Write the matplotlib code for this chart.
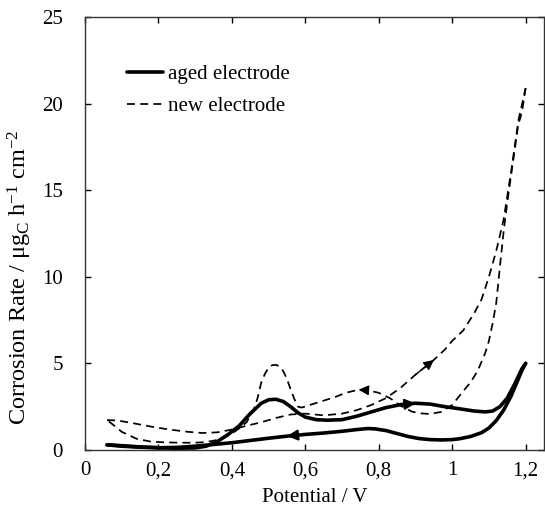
import matplotlib
matplotlib.use("Agg")
import matplotlib.pyplot as plt

plt.rcParams['font.family'] = ['Liberation Serif', 'DejaVu Serif']
plt.rcParams['mathtext.fontset'] = 'custom'
plt.rcParams['mathtext.rm'] = 'Liberation Serif'
plt.rcParams['mathtext.it'] = 'Liberation Serif:italic'

# ---------------- data ----------------
x_ticks = [0, 0.2, 0.4, 0.6, 0.8, 1.0, 1.2]
x_tick_labels = ['0', '0,2', '0,4', '0,6', '0,8', '1', '1,2']
y_ticks = [0, 5, 10, 15, 20, 25]

aged_fwd_x = [0.06, 0.10, 0.15, 0.20, 0.25, 0.30, 0.33, 0.36, 0.39, 0.42, 0.45, 0.48, 0.50, 0.52,
              0.54, 0.56, 0.58, 0.60, 0.63, 0.66, 0.70, 0.74, 0.78, 0.82, 0.86, 0.90, 0.94, 0.98,
              1.02, 1.06, 1.09, 1.11, 1.13, 1.15, 1.17, 1.19, 1.20]
aged_fwd_y = [0.30, 0.25, 0.18, 0.13, 0.10, 0.12, 0.22, 0.48, 0.90, 1.40, 2.10, 2.70, 2.90, 2.93,
              2.80, 2.50, 2.15, 1.90, 1.75, 1.72, 1.75, 1.95, 2.20, 2.45, 2.62, 2.70, 2.65, 2.50,
              2.38, 2.25, 2.20, 2.25, 2.50, 3.00, 3.80, 4.70, 5.00]

aged_bwd_x = [1.20, 1.19, 1.18, 1.17, 1.16, 1.15, 1.14, 1.12, 1.10, 1.08, 1.05, 1.02, 1.00, 0.97,
              0.94, 0.91, 0.88, 0.85, 0.82, 0.79, 0.77, 0.74, 0.70, 0.65, 0.60, 0.55, 0.50, 0.45,
              0.40, 0.35, 0.30, 0.25, 0.20, 0.15, 0.10, 0.06]
aged_bwd_y = [5.00, 4.60, 4.10, 3.60, 3.10, 2.70, 2.30, 1.70, 1.27, 1.00, 0.78, 0.65, 0.60, 0.58,
              0.60, 0.66, 0.78, 0.95, 1.12, 1.22, 1.24, 1.18, 1.08, 0.98, 0.90, 0.80, 0.68, 0.55,
              0.42, 0.32, 0.22, 0.15, 0.13, 0.16, 0.22, 0.30]

new_fwd_x = [0.06, 0.09, 0.13, 0.18, 0.23, 0.28, 0.32, 0.36, 0.40, 0.44, 0.48, 0.52, 0.56, 0.60,
             0.65, 0.70, 0.74, 0.78, 0.82, 0.86, 0.90, 0.95, 0.98, 1.00, 1.03, 1.06, 1.08, 1.10,
             1.12, 1.14, 1.16, 1.18, 1.20]
new_fwd_y = [1.73, 1.70, 1.55, 1.35, 1.18, 1.05, 0.98, 1.02, 1.18, 1.40, 1.60, 1.85, 2.05, 2.10,
             2.00, 2.10, 2.30, 2.60, 3.00, 3.60, 4.35, 5.20, 5.80, 6.30, 6.90, 7.90, 8.70, 10.0,
             11.5, 13.3, 16.0, 19.0, 20.9]

new_bwd_x = [1.20, 1.19, 1.18, 1.17, 1.16, 1.15, 1.14, 1.13, 1.12, 1.11, 1.10, 1.09, 1.07, 1.05,
             1.03, 1.00, 0.97, 0.94, 0.91, 0.89, 0.86, 0.83, 0.80, 0.77, 0.745, 0.71, 0.68, 0.65,
             0.62, 0.59, 0.58, 0.57, 0.56, 0.55, 0.54, 0.53, 0.52, 0.51, 0.50, 0.49, 0.48, 0.47,
             0.46, 0.44, 0.42, 0.40, 0.38, 0.36, 0.33, 0.30, 0.26, 0.22, 0.18, 0.14, 0.10, 0.08, 0.06]
new_bwd_y = [20.9, 19.5, 18.8, 17.3, 15.8, 14.3, 12.6, 10.6, 8.5, 7.3, 6.3, 5.6, 4.6, 3.9,
             3.4, 2.6, 2.2, 2.08, 2.12, 2.22, 2.55, 3.0, 3.3, 3.45, 3.48, 3.30, 3.05, 2.85,
             2.65, 2.45, 2.50, 2.95, 3.50, 4.10, 4.55, 4.82, 4.92, 4.90, 4.75, 4.40, 3.90, 3.00,
             2.35, 1.60, 1.25, 0.95, 0.72, 0.58, 0.46, 0.42, 0.42, 0.44, 0.48, 0.65, 1.05, 1.40, 1.73]

# ---------------- figure ----------------
fig = plt.figure(figsize=(5.45, 5.08), dpi=100)
ax = fig.add_axes([85 / 545, 58 / 508, 459 / 545, 433 / 508])

lw_solid = 2.6
lw_dash = 1.25
dash = (0, (4.6, 3))

ax.plot(aged_fwd_x, aged_fwd_y, color='black', lw=lw_solid, solid_capstyle='round',
        solid_joinstyle='round', label='aged electrode')
ax.plot(aged_bwd_x, aged_bwd_y, color='black', lw=lw_solid, solid_capstyle='round',
        solid_joinstyle='round')
ax.plot(new_fwd_x, new_fwd_y, color='black', lw=lw_dash, linestyle=dash, label='new electrode')
ax.plot(new_bwd_x, new_bwd_y, color='black', lw=lw_dash, linestyle=dash)


def arrow_on(xs, ys, i, lw, scale):
    ax.annotate('', xy=(xs[i + 1], ys[i + 1]), xytext=(xs[i], ys[i]),
                arrowprops=dict(arrowstyle='-|>', color='black', lw=lw,
                                mutation_scale=scale, shrinkA=0, shrinkB=0))


arrow_on(aged_bwd_x, aged_bwd_y, 24, 1.5, 16)   # leftward on lower aged branch
arrow_on(aged_fwd_x, aged_fwd_y, 24, 1.5, 16)   # rightward on upper aged branch
arrow_on(new_fwd_x, new_fwd_y, 20, 1.0, 15)     # up-right on new forward branch
arrow_on(new_bwd_x, new_bwd_y, 23, 1.0, 15)     # leftward on new backward branch

ax.set_xlim(0, 1.25)
ax.set_ylim(0, 25)
ax.set_xticks(x_ticks)
ax.set_xticklabels(x_tick_labels)
ax.set_yticks(y_ticks)

ax.tick_params(direction='in', top=True, right=True, length=4, width=1.0,
               labelsize=15, colors='black')
ax.tick_params(axis='x', pad=8)
ax.tick_params(axis='y', pad=16)
for s in ax.spines.values():
    s.set_linewidth(1.0)
    s.set_color('#333333')

ax.set_xlabel('Potential / V', fontsize=15, labelpad=6)
ax.set_ylabel(r'Corrosion Rate / μg$_{\mathrm{C}}$ h$^{\mathrm{-1}}$ cm$^{\mathrm{-2}}$',
              fontsize=17.5)
ax.yaxis.set_label_coords(-0.112, 0.40)

leg = ax.legend(loc='upper left', bbox_to_anchor=(0.092, 0.89), frameon=False,
                fontsize=15, handlelength=1.7, handletextpad=0.25, labelspacing=0.6,
                borderpad=0, borderaxespad=0)

fig.savefig('out.png', dpi=100)
